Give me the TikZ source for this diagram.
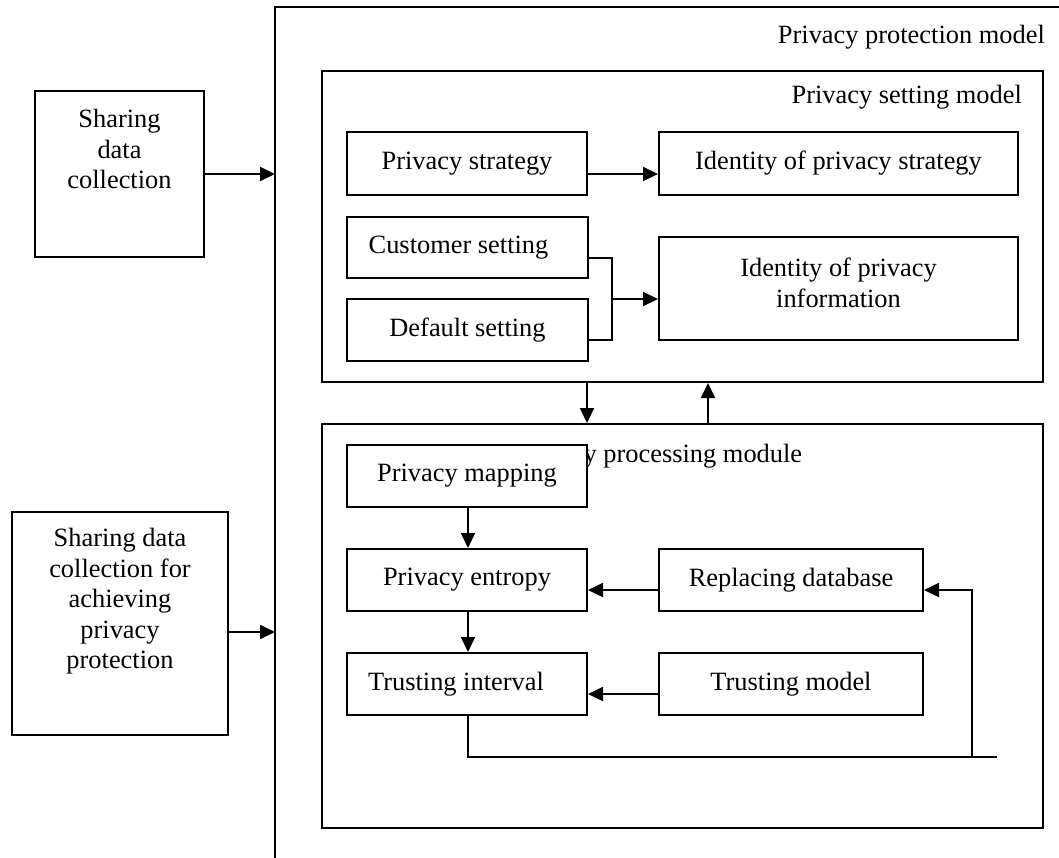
\documentclass[tikz,border=0pt]{standalone}
\usepackage{fontspec}
\setmainfont{Liberation Serif}
\usetikzlibrary{arrows.meta}
\tikzset{
  txt/.style={font=\fontsize{26.4}{30.5}\selectfont, inner sep=0pt},
  box/.style={draw, line width=2pt, fill=white, txt, inner sep=0pt},
  frame/.style={draw, line width=2pt},
  conn/.style={line width=2pt},
  arr/.style={conn, -{Triangle[length=15pt,width=14pt]}},
}
\begin{document}
\begin{tikzpicture}[x=1pt,y=-1pt]
\useasboundingbox (0,0) rectangle (1059,857);
\clip (0,0) rectangle (1059,857);

% outer model frame, running off the page to the right and bottom
\draw[frame] (1070,7) -- (275,7) -- (275,870);
\node[txt, anchor=base east] (tprot) at (1045,43) {Privacy protection model};

% input boxes on the left
\node[box, minimum width=169pt, minimum height=166pt] (sdc) at (119.5,174) {};
\node[txt, align=center, anchor=north] (sdct) at (119.5,109) {Sharing\\data\\collection};
\node[box, minimum width=216pt, minimum height=223pt] (sdp) at (120,623.5) {};
\node[txt, align=center, anchor=north] (sdpt) at (120,528) {Sharing data\\collection for\\achieving\\privacy\\protection};

\coordinate (in1) at (275,174);
\coordinate (in2) at (275,632);
\draw[arr] (sdc.east |- in1) -- (in1);
\draw[arr] (sdp.east |- in2) -- (in2);

% privacy setting model
\node[box, minimum width=721pt, minimum height=311pt] (setting) at (682.5,226.5) {};
\node[txt, anchor=base east] (tset) at (1022,103) {Privacy setting model};

\node[box, minimum width=240pt, minimum height=63pt] (strategy) at (467,163.5) {Privacy strategy};
\node[box, minimum width=359pt, minimum height=63pt] (idstrat) at (838.5,163.5) {Identity of privacy strategy};
\node[box, minimum width=241pt, minimum height=61pt] (customer) at (467.5,247.5) {\hspace*{-18pt}Customer setting};
\node[box, minimum width=241pt, minimum height=62pt] (default) at (467.5,330) {Default setting};
\node[box, minimum width=359pt, minimum height=103pt, align=center] (idinfo) at (838.5,288.5) {Identity of privacy\\information\rule[-12pt]{0pt}{0pt}};

\coordinate (sy) at (0,174);
\draw[arr] (strategy.east |- sy) -- (idstrat.west |- sy);

\coordinate (cj) at (612,258);
\coordinate (dj) at (612,340);
\coordinate (mj) at (612,299);
\draw[conn] (customer.east |- cj) -- (cj) -- (dj) -- (default.east |- dj);
\draw[arr] (mj) -- (idinfo.west |- mj);

% privacy processing module
\node[box, minimum width=721pt, minimum height=404pt] (proc) at (682.5,626) {};
\node[txt, anchor=base west] (tproc) at (516,462) {Privacy processing module};

\coordinate (dx) at (587,0);
\coordinate (ux) at (708,0);
\draw[arr] (setting.south -| dx) -- (proc.north -| dx);
\draw[arr] (proc.north -| ux) -- (setting.south -| ux);

\node[box, minimum width=240pt, minimum height=62pt] (mapping) at (467,476) {Privacy mapping};
\node[box, minimum width=240pt, minimum height=62pt] (entropy) at (467,580) {Privacy entropy};
\node[box, minimum width=264pt, minimum height=62pt] (replacing) at (791,580) {Replacing database};
\node[box, minimum width=240pt, minimum height=62pt] (interval) at (467,684) {\hspace*{-22pt}Trusting interval};
\node[box, minimum width=264pt, minimum height=62pt] (tmodel) at (791,684) {Trusting model};

\coordinate (vx) at (468,0);
\coordinate (ey) at (0,590);
\coordinate (iy) at (0,694);
\draw[arr] (mapping.south -| vx) -- (entropy.north -| vx);
\draw[arr] (entropy.south -| vx) -- (interval.north -| vx);
\draw[arr] (replacing.west |- ey) -- (entropy.east |- ey);
\draw[arr] (tmodel.west |- iy) -- (interval.east |- iy);

% feedback loop back into the replacing database
\coordinate (lb) at (468,757);
\coordinate (le) at (997,757);
\coordinate (lc) at (972,757);
\coordinate (lt) at (972,590);
\draw[conn] (interval.south -| vx) -- (lb) -- (le);
\draw[arr] (lc) -- (lt) -- (replacing.east |- lt);
\end{tikzpicture}
\end{document}
